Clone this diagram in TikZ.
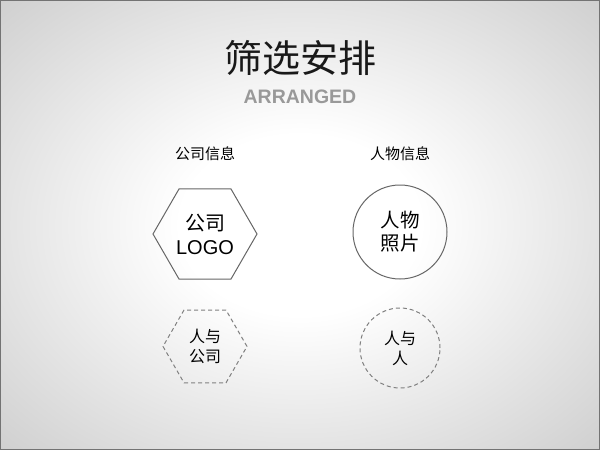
\documentclass[tikz,border=0pt]{standalone}
\usepackage{fontspec}
\setmainfont{Liberation Sans}
\newfontfamily\cjk{Noto Sans CJK SC}
\usetikzlibrary{positioning, shapes.geometric}
\pgfdeclareradialshading{glow}{\pgfpoint{0bp}{0bp}}{color(0bp)=(white); color(10bp)=(white); color(25bp)=(black!11); color(36bp)=(black!19); color(50bp)=(black!19)}

\begin{document}
\begin{tikzpicture}[x=1pt, y=-1pt, font=\cjk,
		hexa/.style={regular polygon, regular polygon sides=6, draw=black!60, line width=1pt, inner sep=0pt, align=center},
		ring/.style={circle, draw=black!60, line width=1pt, inner sep=0pt, align=center},
		dashy/.style={draw=black!50, dash pattern=on 4pt off 3pt},
		head/.style={inner sep=0pt, font=\cjk\fontsize{15}{17}\selectfont}]
		\shade[shading=glow] (0,0) rectangle (600,450);
		\draw[black!55, line width=1pt] (0.5,0.5) rectangle (599.5,449.5);
		\useasboundingbox (0,0) rectangle (600,450);
		
		\node[font=\cjk\fontsize{38}{40}\selectfont, text=black!90] (title) at (300,58) {筛选安排};
		\node[font=\bfseries\fontsize{19.5}{22}\selectfont, text=black!40] (sub) at (300,97) {ARRANGED};
		
		\node[hexa, minimum size=104pt, font=\fontsize{20}{24}\selectfont] (logo) at (205,234) {\cjk 公司\\LOGO};
		\node[ring, minimum size=94pt, font=\cjk\fontsize{19.5}{23}\selectfont] (photo) at (400,232) {人物\\照片};
		
		\node[head, above=28pt of logo] (comp) {公司信息};
		\node[head] (pers) at (comp -| photo) {人物信息};
		
		\node[hexa, dashy, minimum size=84pt, below=30pt of logo, font=\cjk\fontsize{16}{20}\selectfont] (link) {人与\\公司};
		\node[ring, dashy, minimum size=80pt, below=28pt of photo, font=\cjk\fontsize{16}{20}\selectfont] (rel) {人与\\人};
	\end{tikzpicture}
\end{document}
